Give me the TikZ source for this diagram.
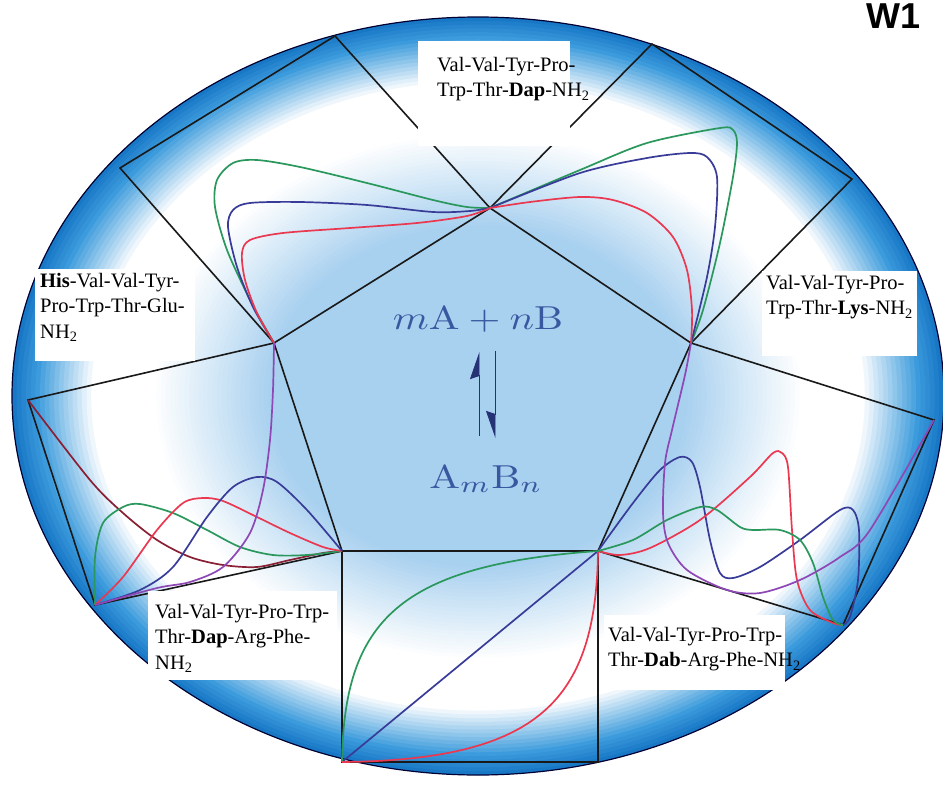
\documentclass[tikz,border=0pt]{standalone}
\usepackage{fontspec}
\newfontfamily\pepfont{Liberation Serif}
\newfontfamily\tagfont{Liberation Sans}
\usetikzlibrary{arrows.meta}

\definecolor{centerblue}{RGB}{168,208,239}
\definecolor{edgeblue}{RGB}{60,155,220}
\definecolor{rimblue}{RGB}{25,120,198}
\definecolor{cgreen}{RGB}{42,152,92}
\definecolor{cblue}{RGB}{56,60,152}
\definecolor{cred}{RGB}{234,56,80}
\definecolor{cpurple}{RGB}{142,72,182}
\definecolor{cmaroon}{RGB}{138,32,52}
\definecolor{eqblue}{RGB}{56,88,160}
\definecolor{eqnavy}{RGB}{38,50,118}

\tikzset{
  frame/.style={line width=1.6pt, black!90},
  curve/.style={line width=1.7pt, line join=round},
  pep/.style={font=\pepfont\fontsize{20.5}{25.5}\selectfont, align=left, inner sep=0pt, anchor=north west},
  chem/.style={text=eqblue, inner sep=0pt, anchor=base},
  eqarrow/.style={eqnavy, line width=0.8pt},
}

\begin{document}
\begin{tikzpicture}[x=1pt,y=-1pt]
\useasboundingbox (0,0) rectangle (943,787);

% Shaded disc, ring by ring
\foreach \k in {100,99,...,45}
{
  \ifnum\k>94
    \pgfmathtruncatemacro\p{(\k-95)*100/5}
    \colorlet{ringc}{rimblue!\p!edgeblue}
  \else\ifnum\k>82
    \pgfmathtruncatemacro\p{(\k-83)*100/12}
    \colorlet{ringc}{edgeblue!\p!white}
  \else\ifnum\k>69
    \colorlet{ringc}{white}
  \else
    \pgfmathtruncatemacro\p{(70-\k)*100/25}
    \colorlet{ringc}{centerblue!\p!white}
  \fi\fi\fi
  \pgfmathsetmacro\rx{4.66*\k}
  \pgfmathsetmacro\ry{3.79*\k}
  \fill[ringc] (478,396) ellipse [x radius=\rx pt, y radius=\ry pt];
}
\draw[line width=1.2pt, black!80!blue] (478,396) ellipse [x radius=466pt, y radius=379pt];

% Pentagon corners
\coordinate (pT) at (490,208);
\coordinate (pR) at (691,343);
\coordinate (pBR) at (598,551);
\coordinate (pBL) at (342,551);
\coordinate (pL) at (274,343);

% Outer corners of the five frames
\coordinate (tlA) at (120,168);
\coordinate (tlB) at (335,36);
\coordinate (trA) at (652,44);
\coordinate (trB) at (852,179);
\coordinate (rA) at (934,420);
\coordinate (rB) at (843,625);
\coordinate (bA) at (598,762);
\coordinate (bB) at (342,762);
\coordinate (lA) at (95,605);
\coordinate (lB) at (28,400);

% Pentagon and frames
\draw[frame] (pL) -- (pT) -- (pR) -- (pBR) -- (pBL) -- cycle;
\draw[frame] (pL) -- (tlA) -- (tlB) -- (pT) -- (trA) -- (trB) -- (pR) -- (rA) -- (rB)
  -- (pBR) -- (bA) -- (bB) -- (pBL) -- (lA) -- (lB) -- cycle;

% Top left frame
\draw[curve,cgreen] plot[smooth] coordinates {(274,343) (262,322) (250,300) (227,250) (215,207) (217,180) (233,163) (257,160) (300,167) (367,183) (433,200) (467,207) (490,208)};
\draw[curve,cblue] plot[smooth] coordinates {(274,343) (253,307) (237,267) (228,227) (233,210) (250,203) (300,202) (367,205) (433,212) (470,211) (490,208)};
\draw[curve,cred] plot[smooth] coordinates {(274,343) (257,313) (245,280) (242,253) (250,240) (283,233) (350,228) (417,223) (467,216) (490,208)};

% Top right frame
\draw[curve,cgreen] plot[smooth] coordinates {(490,208) (580,170) (647,143) (720,128) (733,130) (737,143) (733,177) (720,243) (703,310) (691,343)};
\draw[curve,cblue] plot[smooth] coordinates {(490,208) (580,173) (647,158) (690,153) (707,157) (717,177) (715,227) (707,277) (691,343)};
\draw[curve,cred] plot[smooth] coordinates {(490,208) (530,202) (580,197) (613,200) (647,213) (673,237) (687,270) (692,310) (691,343)};

% Left frame
\draw[curve,cmaroon] plot[smooth] coordinates {(28,400) (90,480) (123,513) (157,540) (190,557) (223,565) (257,567) (290,560) (323,553) (342,551)};
\draw[curve,cgreen] plot[smooth] coordinates {(95,605) (95,557) (103,523) (123,507) (140,504) (173,513) (207,530) (240,547) (273,555) (307,555) (342,551)};
\draw[curve,cred] plot[smooth] coordinates {(95,605) (123,577) (157,530) (183,503) (203,498) (223,501) (257,517) (290,533) (323,547) (342,551)};
\draw[curve,cblue] plot[smooth] coordinates {(95,605) (140,590) (173,567) (207,517) (233,487) (257,477) (277,482) (307,510) (342,551)};
\draw[curve,cpurple] plot[smooth] coordinates {(95,605) (157,588) (190,582) (223,567) (250,533) (263,490) (270,440) (273,390) (274,343)};

% Bottom frame
\draw[curve,cblue] (bB) -- (pBR);
\draw[curve,cgreen] (bB) .. controls (344,620) and (400,565) .. (pBR);
\draw[curve,cred] (bB) .. controls (540,760) and (596,700) .. (pBR);

% Right frame
\draw[curve,cblue] plot[smooth] coordinates {(598,551) (633,503) (660,470) (680,457) (692,462) (700,487) (710,540) (720,573) (733,578) (760,567) (800,540) (840,510) (853,510) (859,530) (858,580) (850,617) (843,625)};
\draw[curve,cred] plot[smooth] coordinates {(598,551) (620,555) (650,548) (700,520) (750,477) (773,453) (782,453) (788,467) (792,530) (797,580) (810,610) (833,623) (843,625)};
\draw[curve,cgreen] plot[smooth] coordinates {(598,551) (633,540) (667,520) (700,507) (717,510) (740,527) (753,530) (780,530) (800,540) (813,563) (823,597) (833,620) (843,625)};
\draw[curve,cpurple] plot[smooth] coordinates {(691,343) (685,375) (672,430) (665,463) (663,513) (668,543) (687,570) (727,590) (760,593) (800,580) (840,557) (870,530) (934,420)};

% Label backdrops
\fill[white] (418,41) rectangle (570,146);
\fill[white] (35,269) rectangle (195,361);
\fill[white] (762,271) rectangle (917,356);
\fill[white] (148,591) rectangle (337,680);
\fill[white] (604,615) rectangle (785,690);

% Peptide labels
\node[pep] (dap) at (437,57) {Val-Val-Tyr-Pro-\\Trp-Thr-\textbf{Dap}-NH\textsubscript{2}};
\node[pep] (his) at (40,273) {\textbf{His}-Val-Val-Tyr-\\Pro-Trp-Thr-Glu-\\NH\textsubscript{2}};
\node[pep] (lys) at (766,275) {Val-Val-Tyr-Pro-\\Trp-Thr-\textbf{Lys}-NH\textsubscript{2}};
\node[pep] (dapArg) at (155,604) {Val-Val-Tyr-Pro-Trp-\\Thr-\textbf{Dap}-Arg-Phe-\\NH\textsubscript{2}};
\node[pep] (dabArg) at (608,627) {Val-Val-Tyr-Pro-Trp-\\Thr-\textbf{Dab}-Arg-Phe-NH\textsubscript{2}};

% Equilibrium
\node[chem] (eqtop) at (478,329) {\scalebox{4.1}[3.32]{$m\mathrm{A}+n\mathrm{B}$}};
\node[chem] (eqbot) at (486,488) {\scalebox{4.1}[3.32]{$\mathrm{A}_m\mathrm{B}_n$}};
\coordinate (upx) at (479,0);
\coordinate (downx) at (495,0);
\draw[eqarrow,-{Stealth[left,length=26pt,width=18pt,inset=3pt]},shorten <=28pt,shorten >=20pt] (eqbot.north -| upx) -- (eqtop.south -| upx);
\draw[eqarrow,-{Stealth[right,length=26pt,width=18pt,inset=3pt]},shorten <=19pt,shorten >=26pt] (eqtop.south -| downx) -- (eqbot.north -| downx);

% Panel tag
\node[font=\tagfont\bfseries\fontsize{36}{36}\selectfont,anchor=base west,inner sep=0pt] (panel) at (866,28) {W1};

\end{tikzpicture}
\end{document}
